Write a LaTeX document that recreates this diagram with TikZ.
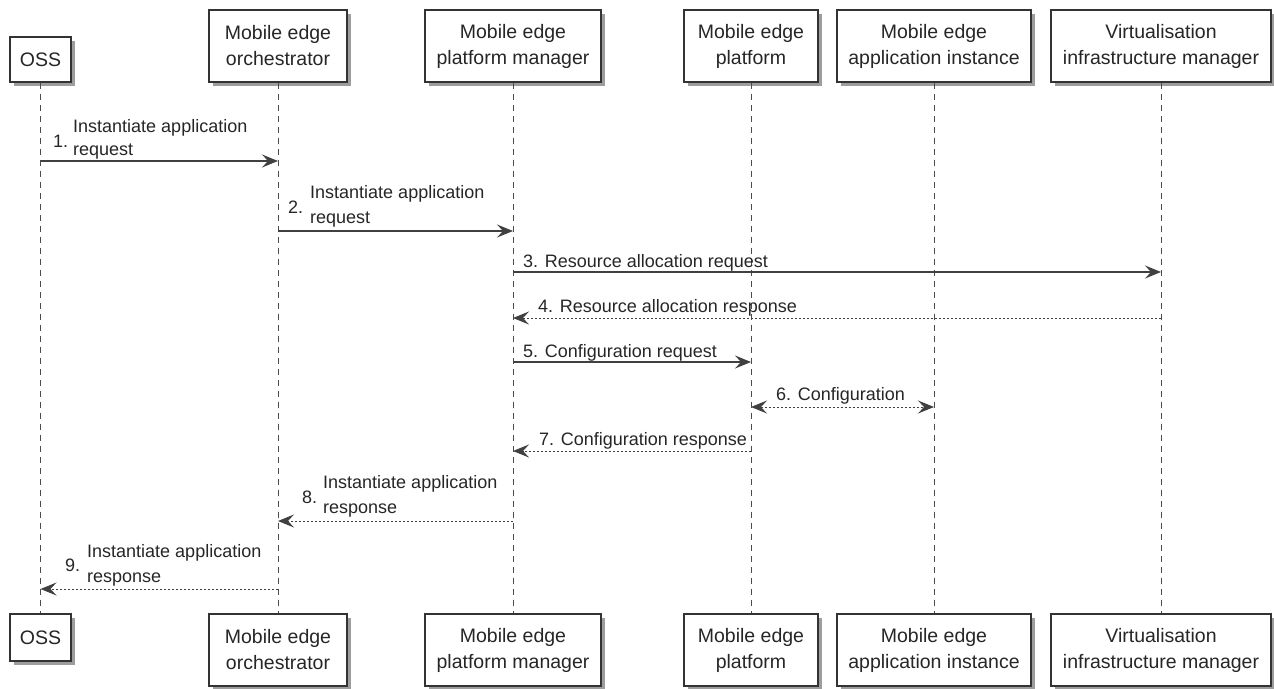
\documentclass[tikz,border=0pt]{standalone}
\usepackage{fontspec}
\setmainfont{Liberation Sans}
\usetikzlibrary{arrows.meta,shadows}
\tikzset{
  actor/.style={draw=black!80, fill=white, line width=1.4pt, align=center, inner sep=0pt, text=black!85,
    font=\fontsize{19.5}{26}\selectfont, minimum height=72pt,
    drop shadow={shadow xshift=4pt, shadow yshift=-4pt, fill=black!45, opacity=.85}},
  lifeline/.style={draw=black!70, line width=1pt, dash pattern=on 6pt off 5pt},
  call/.style={-{Stealth[length=16pt,width=13pt,inset=6pt]}, line width=1.3pt, draw=black!75},
  reply/.style={call, line width=1pt, dash pattern=on 2pt off 2pt},
  both/.style={reply, {Stealth[length=16pt,width=13pt,inset=6pt]}-{Stealth[length=16pt,width=13pt,inset=6pt]}},
  msg/.style={anchor=base west, inner sep=0pt, text=black!85, font=\fontsize{18}{24}\selectfont}
}
\begin{document}
\begin{tikzpicture}[x=1pt, y=-1pt]
\useasboundingbox (0,0) rectangle (1274,688);
% participants, top row
\node[actor, minimum width=61pt, minimum height=45pt] (oss) at (40.5,59.5) {OSS};
\node[actor, minimum width=138pt] (meo) at (278,46) {Mobile edge\\orchestrator};
\node[actor, minimum width=176pt] (mepm) at (513,46) {Mobile edge\\platform manager};
\node[actor, minimum width=134pt] (mep) at (751,46) {Mobile edge\\platform};
\node[actor, minimum width=194pt] (meai) at (934,46) {Mobile edge\\application instance};
\node[actor, minimum width=220pt] (vim) at (1161,46) {Virtualisation\\infrastructure manager};
% participants, bottom row
\node[actor, minimum width=61pt, minimum height=47pt] (ossB) at (40.5,637.5) {OSS};
\node[actor, minimum width=138pt] (meoB) at (278,650) {Mobile edge\\orchestrator};
\node[actor, minimum width=176pt] (mepmB) at (513,650) {Mobile edge\\platform manager};
\node[actor, minimum width=134pt] (mepB) at (751,650) {Mobile edge\\platform};
\node[actor, minimum width=194pt] (meaiB) at (934,650) {Mobile edge\\application instance};
\node[actor, minimum width=220pt] (vimB) at (1161,650) {Virtualisation\\infrastructure manager};
% lifelines
\draw[lifeline] (oss) -- (ossB);
\draw[lifeline] (meo) -- (meoB);
\draw[lifeline] (mepm) -- (mepmB);
\draw[lifeline] (mep) -- (mepB);
\draw[lifeline] (meai) -- (meaiB);
\draw[lifeline] (vim) -- (vimB);
% 1
\draw[call] (oss |- 0,161) -- (meo |- 0,161);
\node[msg] (n1) at (53,147) {1.};
\node[msg] (t1a) at (73,132) {Instantiate application};
\node[msg] (t1b) at (73,155) {request};
% 2
\draw[call] (meo |- 0,231) -- (mepm |- 0,231);
\node[msg] (n2) at (288,213) {2.};
\node[msg] (t2a) at (310,198) {Instantiate application};
\node[msg] (t2b) at (310,223) {request};
% 3
\draw[call] (mepm |- 0,272) -- (vim |- 0,272);
\node[msg] (t3) at (523,267) {3. Resource allocation request};
% 4
\draw[reply] (vim |- 0,318) -- (mepm |- 0,318);
\node[msg] (t4) at (538,312) {4. Resource allocation response};
% 5
\draw[call] (mepm |- 0,362) -- (mep |- 0,362);
\node[msg] (t5) at (523,357) {5. Configuration request};
% 6
\draw[both] (mep |- 0,407) -- (meai |- 0,407);
\node[msg] (t6) at (776,400) {6. Configuration};
% 7
\draw[reply] (mep |- 0,451) -- (mepm |- 0,451);
\node[msg] (t7) at (539,445) {7. Configuration response};
% 8
\draw[reply] (mepm |- 0,521) -- (meo |- 0,521);
\node[msg] (n8) at (302,503) {8.};
\node[msg] (t8a) at (323,488) {Instantiate application};
\node[msg] (t8b) at (323,513) {response};
% 9
\draw[reply] (meo |- 0,589) -- (oss |- 0,589);
\node[msg] (n9) at (65,571) {9.};
\node[msg] (t9a) at (87,557) {Instantiate application};
\node[msg] (t9b) at (87,582) {response};
\end{tikzpicture}
\end{document}
